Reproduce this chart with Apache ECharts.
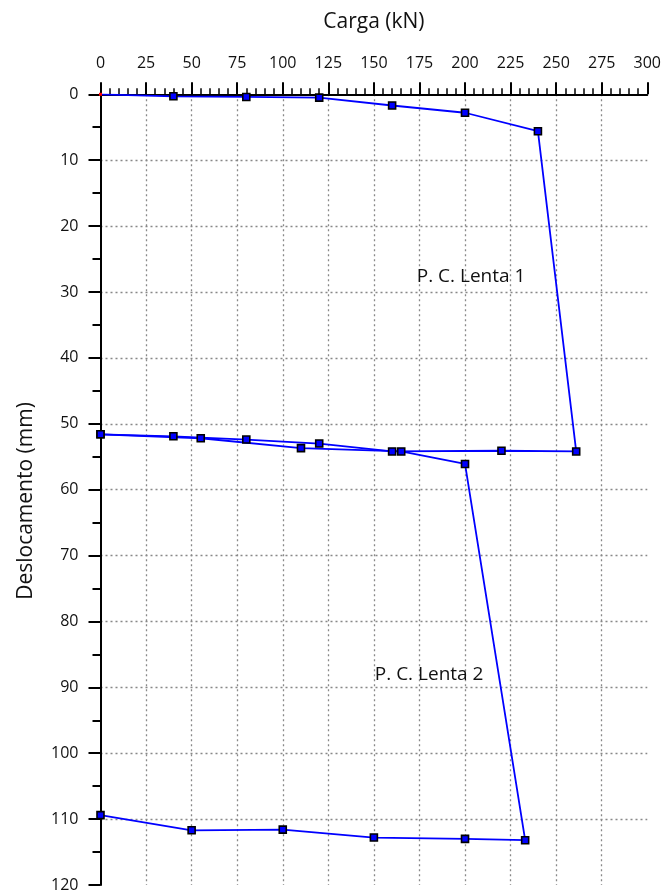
<!DOCTYPE html>
<html>
<head>
<meta charset="utf-8">
<script src="https://cdn.jsdelivr.net/npm/echarts@6/dist/echarts.min.js"></script>
<style>
  html, body { margin: 0; padding: 0; background: #fff; }
  #chart { width: 664px; height: 893px; }
</style>
</head>
<body>
<div id="chart"></div>
<script>
// Load test curves: applied load (kN) vs settlement (mm)
const lenta1Carga  = [0, 40, 80, 120, 160, 200, 240, 261, 220, 160, 120, 80, 40, 0];
const lenta1Desloc = [0, 0.3, 0.4, 0.5, 1.7, 2.8, 5.6, 54.2, 54.1, 54.2, 53.0, 52.4, 51.9, 51.6];

const lenta2Carga  = [0, 55, 110, 165, 200, 233, 200, 150, 100, 50, 0];
const lenta2Desloc = [51.6, 52.2, 53.7, 54.2, 56.1, 113.2, 113.0, 112.8, 111.6, 111.7, 109.4];

const xTicks = [0, 25, 50, 75, 100, 125, 150, 175, 200, 225, 250, 275, 300];
const yTicks = [0, 10, 20, 30, 40, 50, 60, 70, 80, 90, 100, 110, 120];

const curveLabels = [
  { text: 'P. C. Lenta 1', at: [173.5, 27.7] },
  { text: 'P. C. Lenta 2', at: [150.5, 88.0] }
];

const FONT = '"Open Sans", "Noto Sans", sans-serif';

function pairs(xs, ys) {
  return xs.map((x, i) => [x, ys[i]]);
}

const lineStyle = { color: '#0000ff', width: 1.8 };
const markerStyle = { color: '#0000ff', borderColor: '#000', borderWidth: 1.6 };

const s1 = pairs(lenta1Carga, lenta1Desloc);
// origin point is shown as a small red dot
s1[0] = { value: s1[0], symbolSize: 3, itemStyle: { color: '#ff0000', borderWidth: 0 } };

const chart = echarts.init(document.getElementById('chart'), null, { renderer: 'canvas' });

const gridLine = { show: true, showMinLine: false, showMaxLine: false,
  lineStyle: { color: '#888', width: 1.3, type: [2, 3] } };

chart.setOption({
  animation: false,
  backgroundColor: '#fff',
  textStyle: { fontFamily: FONT },
  grid: { left: 100.5, right: 14.5, top: 94.3, bottom: 4, containLabel: false },
  xAxis: {
    type: 'value',
    position: 'top',
    min: xTicks[0], max: xTicks[xTicks.length - 1], interval: 25,
    name: 'Carga (kN)', nameLocation: 'middle', nameGap: 62,
    nameTextStyle: { fontSize: 21, color: '#111', fontFamily: FONT },
    axisLine: { show: true, onZero: false, lineStyle: { color: '#000', width: 2 } },
    axisTick: { show: true, inside: false, length: 12, lineStyle: { color: '#000', width: 2 } },
    minorTick: { show: true, splitNumber: 5, length: 6, lineStyle: { color: '#000', width: 1.5 } },
    axisLabel: { fontSize: 16, color: '#111', margin: 23, fontFamily: FONT },
    splitLine: gridLine
  },
  yAxis: {
    type: 'value',
    inverse: true,
    min: yTicks[0], max: yTicks[yTicks.length - 1], interval: 10,
    axisLine: { show: true, onZero: false, lineStyle: { color: '#000', width: 2 } },
    axisTick: { show: true, inside: false, length: 12, lineStyle: { color: '#000', width: 2 } },
    minorTick: { show: true, splitNumber: 2, length: 8, lineStyle: { color: '#000', width: 2 } },
    axisLabel: { fontSize: 16, color: '#111', margin: 22, fontFamily: FONT },
    splitLine: gridLine
  },
  series: [
    {
      name: 'P. C. Lenta 1', type: 'line', data: s1,
      symbol: 'rect', symbolSize: 7, showAllSymbol: true,
      lineStyle: lineStyle, itemStyle: markerStyle, clip: true
    },
    {
      name: 'P. C. Lenta 2', type: 'line', data: pairs(lenta2Carga, lenta2Desloc),
      symbol: 'rect', symbolSize: 7, showAllSymbol: true,
      lineStyle: lineStyle, itemStyle: markerStyle, clip: true
    }
  ]
});

// Curve captions and the vertical axis title
const graphics = curveLabels.map(l => {
  const p = chart.convertToPixel({ gridIndex: 0 }, l.at);
  return {
    type: 'text', x: p[0], y: p[1], z: 10,
    style: { text: l.text, fill: '#111', font: '19px ' + FONT, align: 'left', verticalAlign: 'middle' }
  };
});
graphics.push({
  type: 'text', x: 26, y: 501, rotation: Math.PI / 2, z: 10,
  style: { text: 'Deslocamento (mm)', fill: '#111', font: '21px ' + FONT, align: 'center', verticalAlign: 'middle' }
});
chart.setOption({ graphic: graphics });
</script>
</body>
</html>
